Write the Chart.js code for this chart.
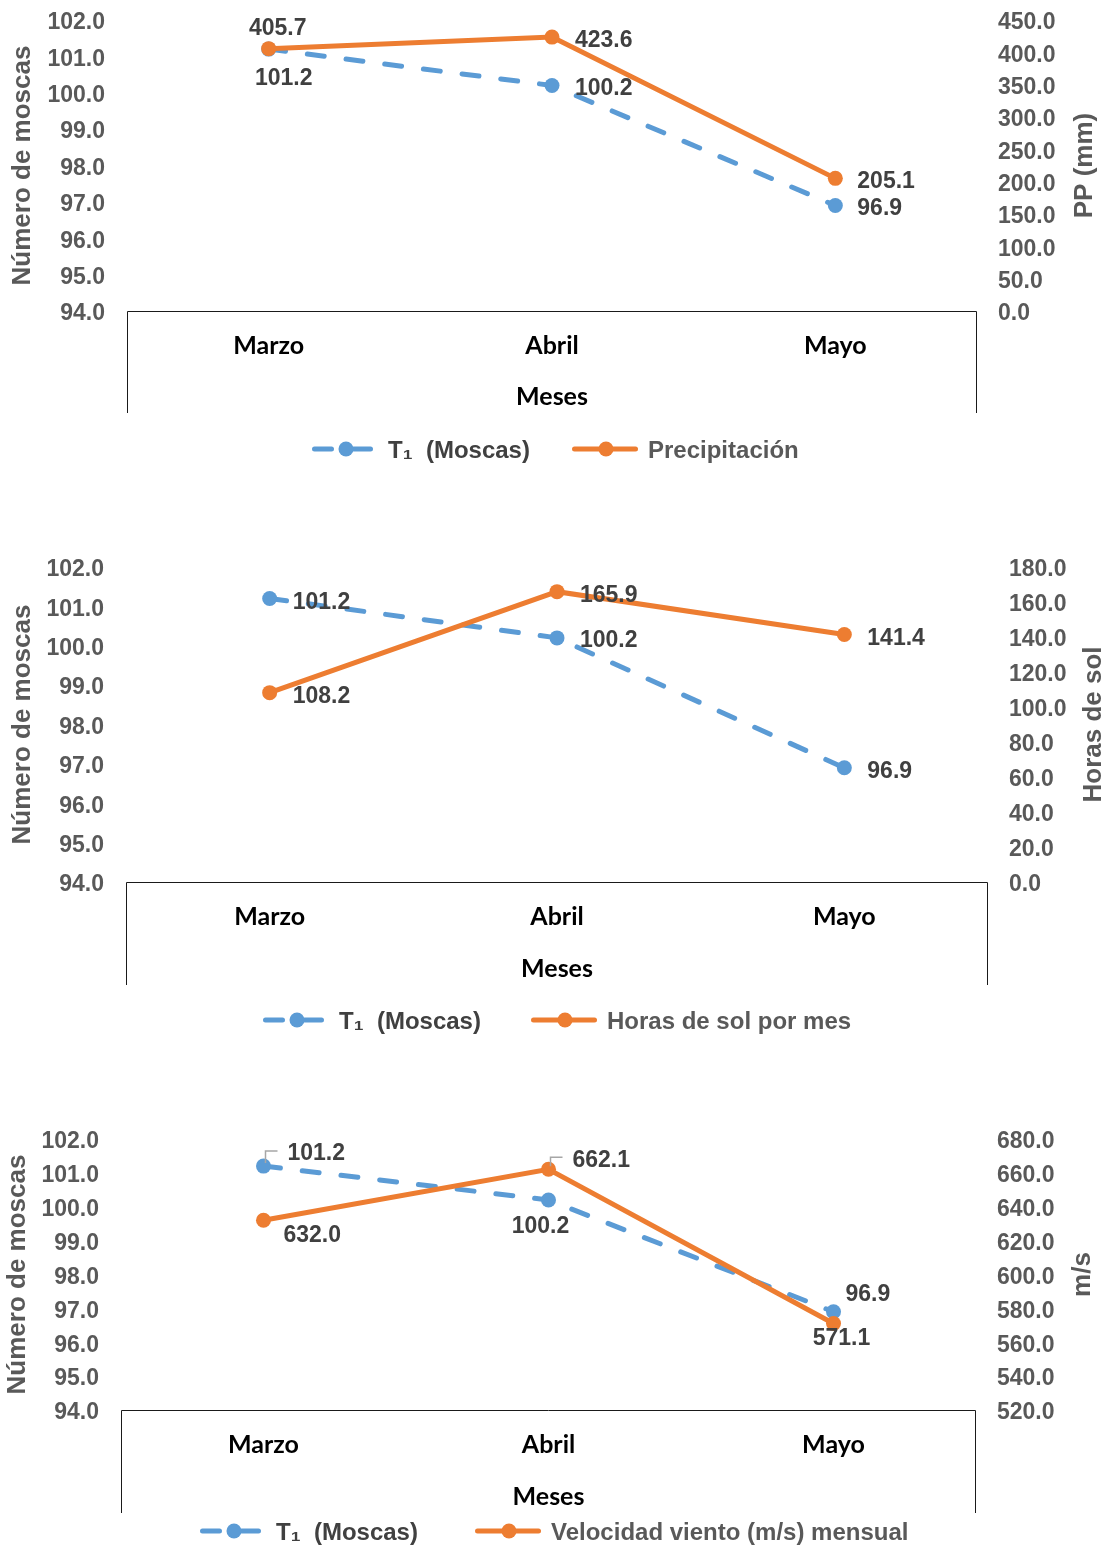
<!DOCTYPE html>
<html>
<head>
<meta charset="utf-8">
<script src="https://cdn.jsdelivr.net/npm/chart.js@4.4.0/dist/chart.umd.min.js"></script>
<style>
  body { margin: 0; background: #fff; width: 1102px; height: 1546px; overflow: hidden; position: relative; }
  canvas { position: absolute; left: 0; }
</style>
</head>
<body>
<canvas id="chart-pp" style="top:-20px"></canvas>
<canvas id="chart-sol" style="top:480px"></canvas>
<canvas id="chart-viento" style="top:1040px"></canvas>
<script>
// monthly data
const months = ["Marzo", "Abril", "Mayo"]
const moscasName = "T₁  (Moscas)"
const moscas = [101.2, 100.2, 96.9]
const precipitacion = [405.7, 423.6, 205.1]
const horasSol = [108.2, 165.9, 141.4]
const velocidadViento = [632.0, 662.1, 571.1]

// axis ranges: [min, max, step]
const moscasRange = [94, 102, 1]
const ppRange = [0, 450, 50]
const solRange = [0, 180, 20]
const vientoRange = [520, 680, 20]

const blue = "#5B9BD5"
const orange = "#ED7D31"
// two-line labels with a short line height push the tick text a few px down onto the tick
const tickFont = { family: "'Liberation Sans', Arial, sans-serif", size: 23, weight: "bold", lineHeight: "6px" }
const titleFont = { family: "'Liberation Sans', Arial, sans-serif", size: 26, weight: "bold" }
const catFont = { family: "Lato, 'Open Sans', sans-serif", size: 25, weight: "bold" }
const tickText = v => ["", v.toFixed(1)]

// value labels next to each point, [dx, dy, align, leader]
const valueLabels = {
  id: "valueLabels",
  afterDatasetsDraw(chart, args, opts) {
    const ctx = chart.ctx
    ctx.save()
    ctx.font = "bold 23px 'Liberation Sans', Arial, sans-serif"
    ctx.textBaseline = "middle"
    chart.data.datasets.forEach((ds, i) => {
      chart.getDatasetMeta(i).data.forEach((pt, j) => {
        const [dx, dy, align, leader] = opts.place[i][j]
        if (leader) {
          ctx.strokeStyle = "#A6A6A6"
          ctx.lineWidth = 1.5
          ctx.beginPath()
          ctx.moveTo(pt.x + 2, pt.y - 3)
          ctx.lineTo(pt.x + 2, pt.y + dy - 1)
          ctx.lineTo(pt.x + dx - 10, pt.y + dy - 1)
          ctx.stroke()
        }
        ctx.fillStyle = "#404040"
        ctx.textAlign = align
        ctx.fillText(ds.data[j].toFixed(1), pt.x + dx, pt.y + dy + 2)
      })
    })
    ctx.restore()
  }
}

// open box under the plot holding the month names
const monthBox = {
  id: "monthBox",
  afterDraw(chart) {
    const { ctx, chartArea } = chart
    const xs = chart.scales.x
    const l = Math.round(chartArea.left) + 0.5
    const r = Math.round(chartArea.right) - 0.5
    const t = Math.round(chartArea.bottom) + 0.5
    ctx.save()
    ctx.strokeStyle = "#1a1a1a"
    ctx.lineWidth = 1
    ctx.beginPath()
    ctx.moveTo(l, xs.bottom)
    ctx.lineTo(l, t)
    ctx.lineTo(r, t)
    ctx.lineTo(r, xs.bottom)
    ctx.stroke()
    ctx.restore()
  }
}

// right axis title, read bottom to top
const rightTitle = {
  id: "rightTitle",
  afterDraw(chart, args, opts) {
    const s = chart.scales.y1
    const t = s.options.title
    const ctx = chart.ctx
    ctx.save()
    ctx.translate(s.right - opts.offset, (chart.chartArea.top + chart.chartArea.bottom) / 2)
    ctx.rotate(-Math.PI / 2)
    ctx.font = "bold " + t.font.size + "px " + t.font.family
    ctx.fillStyle = t.color
    ctx.textAlign = "center"
    ctx.textBaseline = "middle"
    ctx.fillText(t.text, 0, 0)
    ctx.restore()
  }
}

// legend with line + marker samples
const lineLegend = {
  id: "lineLegend",
  afterDraw(chart, args, opts) {
    const ctx = chart.ctx
    chart.data.datasets.forEach((ds, i) => {
      const x0 = opts.x[i]
      const y = opts.y
      const w = opts.markerWidth
      ctx.save()
      ctx.strokeStyle = ds.borderColor
      ctx.lineWidth = ds.borderWidth
      ctx.lineCap = "round"
      ctx.setLineDash(ds.borderDash || [])
      ctx.beginPath()
      ctx.moveTo(x0 + 2.5, y)
      ctx.lineTo(x0 + w - 2.5, y)
      ctx.stroke()
      ctx.setLineDash([])
      ctx.fillStyle = ds.pointBackgroundColor
      ctx.beginPath()
      ctx.arc(x0 + w / 2 + 1, y, ds.pointRadius, 0, Math.PI * 2)
      ctx.fill()
      ctx.font = "bold 24px 'Liberation Sans', Arial, sans-serif"
      ctx.fillStyle = opts.colors[i]
      ctx.textAlign = "left"
      ctx.textBaseline = "middle"
      ctx.fillText(ds.label, x0 + w + opts.gap, y + 2)
      ctx.restore()
    })
  }
}

function makeChart(id, cfg) {
  const canvas = document.getElementById(id)
  canvas.width = 1102
  canvas.height = cfg.height
  canvas.style.width = "1102px"
  canvas.style.height = cfg.height + "px"
  return new Chart(canvas, {
    type: "line",
    data: {
      labels: months,
      datasets: [
        {
          label: moscasName, data: moscas, yAxisID: "y", order: 1,
          borderColor: blue, backgroundColor: blue, pointBackgroundColor: blue, pointBorderColor: blue,
          borderWidth: 5, borderDash: [17, 22], borderCapStyle: "round",
          pointRadius: 7.5, pointBorderWidth: 0, tension: 0
        },
        {
          label: cfg.label, data: cfg.data, yAxisID: "y1", order: 0,
          borderColor: orange, backgroundColor: orange, pointBackgroundColor: orange, pointBorderColor: orange,
          borderWidth: 5, borderCapStyle: "round",
          pointRadius: 7.5, pointBorderWidth: 0, tension: 0
        }
      ]
    },
    options: {
      responsive: false,
      animation: false,
      devicePixelRatio: 1,
      layout: { padding: { top: cfg.top, bottom: cfg.bottom, left: 0, right: 0 } },
      plugins: {
        legend: { display: false },
        tooltip: { enabled: false },
        valueLabels: { place: cfg.place },
        rightTitle: { offset: cfg.rightOffset },
        lineLegend: { x: cfg.legendX, y: cfg.legendY, markerWidth: 66, gap: 10, colors: ["#404040", "#595959"] }
      },
      scales: {
        x: {
          offset: true,
          grid: { display: false, drawTicks: false },
          border: { display: false },
          ticks: { font: catFont, color: "#000", padding: 20 },
          title: { display: true, text: "Meses", font: catFont, color: "#000", padding: { top: 0, bottom: 1 } },
          afterFit: s => { s.height = cfg.xHeight }
        },
        y: {
          position: "left",
          min: moscasRange[0], max: moscasRange[1],
          grid: { display: false, drawTicks: false },
          border: { display: false },
          ticks: { stepSize: moscasRange[2], autoSkip: false, font: tickFont, color: "#595959", padding: 22, callback: tickText },
          title: { display: true, text: "Número de moscas", font: titleFont, color: "#595959", padding: { top: cfg.leftTitlePad, bottom: 0 } },
          afterFit: s => { s.width = cfg.left }
        },
        y1: {
          position: "right",
          min: cfg.range[0], max: cfg.range[1],
          grid: { display: false, drawTicks: false },
          border: { display: false },
          ticks: { stepSize: cfg.range[2], autoSkip: false, font: tickFont, color: "#595959", padding: 21, callback: tickText },
          title: { display: false, text: cfg.axisTitle, font: titleFont, color: "#595959" },
          afterFit: s => { s.width = 1102 - cfg.right }
        }
      }
    },
    plugins: [valueLabels, monthBox, rightTitle, lineLegend]
  })
}

makeChart("chart-pp", {
  label: "Precipitación", data: precipitacion, range: ppRange, axisTitle: "PP (mm)",
  height: 500, top: 40, bottom: 67, xHeight: 102, left: 127, right: 977,
  leftTitlePad: 7, rightOffset: 17, legendX: [312, 572], legendY: 469,
  place: [
    [[15, 28, "center"], [23, 1, "left"], [22, 1, "left"]],
    [[9, -22, "center"], [23, 2, "left"], [22, 1, "left"]]
  ]
})

makeChart("chart-sol", {
  label: "Horas de sol por mes", data: horasSol, range: solRange, axisTitle: "Horas de sol",
  height: 560, top: 87, bottom: 55, xHeight: 103, left: 126, right: 988,
  leftTitlePad: 7, rightOffset: 8, legendX: [263, 531], legendY: 540,
  place: [
    [[23, 2, "left"], [23, 1, "left"], [23, 2, "left"]],
    [[23, 2, "left"], [23, 2, "left"], [23, 2, "left"]]
  ]
})

makeChart("chart-viento", {
  label: "Velocidad viento (m/s) mensual", data: velocidadViento, range: vientoRange, axisTitle: "m/s",
  height: 506, top: 99, bottom: 33, xHeight: 103, left: 121, right: 976,
  leftTitlePad: 2, rightOffset: 19, legendX: [200, 475], legendY: 491,
  place: [
    [[24, -14, "left", true], [-8, 25, "center"], [12, -19, "left"]],
    [[20, 13, "left"], [24, -11, "left", true], [8, 13, "center"]]
  ]
})
</script>
</body>
</html>
